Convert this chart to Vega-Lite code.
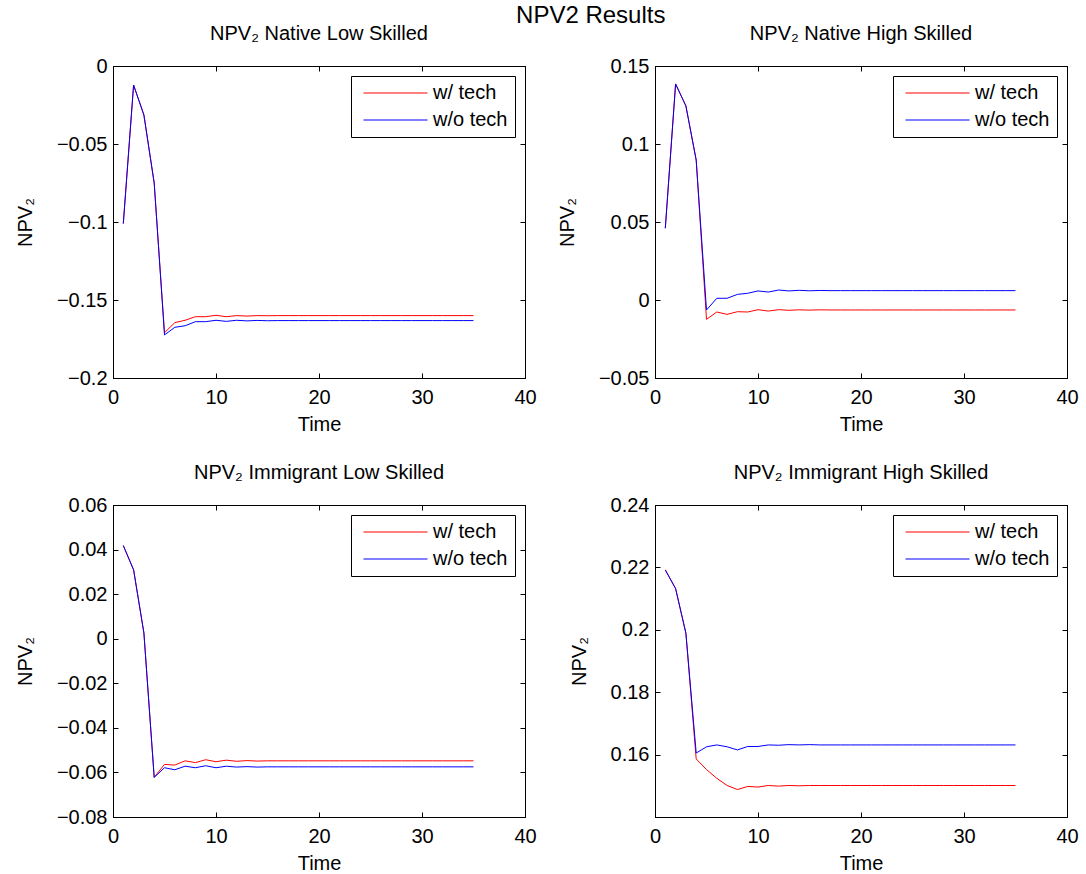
{
  "$schema": "https://vega.github.io/schema/vega-lite/v6.json",
  "background": "white",
  "padding": {"left": 14, "top": 3, "right": 10, "bottom": 5},
  "title": {"text": "NPV2 Results", "fontSize": 24, "font": "Liberation Sans", "fontWeight": "normal", "color": "black", "anchor": "middle", "offset": -4, "dx": 44},
  "config": {
    "font": "Liberation Sans",
    "view": {"stroke": "black", "strokeWidth": 1},
    "title": {"fontSize": 20, "fontWeight": "normal", "color": "black", "font": "Liberation Sans", "offset": 12},
    "axis": {"grid": false, "domainColor": "black", "tickColor": "black", "labelColor": "black", "titleColor": "black", "labelFontSize": 20, "titleFontSize": 20, "titleFontWeight": "normal", "labelFont": "Liberation Sans", "titleFont": "Liberation Sans", "tickSize": -5, "labelFlush": false, "labelOverlap": false},
    "axisX": {"labelPadding": 14, "titlePadding": 7},
    "axisY": {"labelPadding": 11, "titlePadding": 21},
    "legend": {"orient": "top-right", "offset": 10, "padding": 7, "symbolOffset": 5, "clipHeight": 20, "rowPadding": 7, "strokeColor": "black", "fillColor": "white", "symbolType": "stroke", "symbolSize": 4096, "symbolStrokeWidth": 1, "labelFontSize": 20, "labelFont": "Liberation Sans", "labelColor": "black", "labelOffset": 5, "title": null}
  },
  "data": {"values": [
    {"p":"A","t":1,"w/ tech":-0.101,"w/o tech":-0.101},
    {"p":"A","t":2,"w/ tech":-0.0122,"w/o tech":-0.0122},
    {"p":"A","t":3,"w/ tech":-0.0314,"w/o tech":-0.0314},
    {"p":"A","t":4,"w/ tech":-0.075,"w/o tech":-0.075},
    {"p":"A","t":5,"w/ tech":-0.171,"w/o tech":-0.1724},
    {"p":"A","t":6,"w/ tech":-0.1645,"w/o tech":-0.1675},
    {"p":"A","t":7,"w/ tech":-0.163,"w/o tech":-0.1665},
    {"p":"A","t":8,"w/ tech":-0.1607,"w/o tech":-0.1639},
    {"p":"A","t":9,"w/ tech":-0.1607,"w/o tech":-0.1639},
    {"p":"A","t":10,"w/ tech":-0.1598,"w/o tech":-0.163},
    {"p":"A","t":11,"w/ tech":-0.1607,"w/o tech":-0.1637},
    {"p":"A","t":12,"w/ tech":-0.16,"w/o tech":-0.163},
    {"p":"A","t":13,"w/ tech":-0.1603,"w/o tech":-0.1634},
    {"p":"A","t":14,"w/ tech":-0.16,"w/o tech":-0.1631},
    {"p":"A","t":15,"w/ tech":-0.1601,"w/o tech":-0.1633},
    {"p":"A","t":16,"w/ tech":-0.16,"w/o tech":-0.1632},
    {"p":"A","t":17,"w/ tech":-0.16,"w/o tech":-0.1632},
    {"p":"A","t":18,"w/ tech":-0.16,"w/o tech":-0.1632},
    {"p":"A","t":19,"w/ tech":-0.16,"w/o tech":-0.1632},
    {"p":"A","t":20,"w/ tech":-0.16,"w/o tech":-0.1632},
    {"p":"A","t":21,"w/ tech":-0.16,"w/o tech":-0.1632},
    {"p":"A","t":22,"w/ tech":-0.16,"w/o tech":-0.1632},
    {"p":"A","t":23,"w/ tech":-0.16,"w/o tech":-0.1632},
    {"p":"A","t":24,"w/ tech":-0.16,"w/o tech":-0.1632},
    {"p":"A","t":25,"w/ tech":-0.16,"w/o tech":-0.1632},
    {"p":"A","t":26,"w/ tech":-0.16,"w/o tech":-0.1632},
    {"p":"A","t":27,"w/ tech":-0.16,"w/o tech":-0.1632},
    {"p":"A","t":28,"w/ tech":-0.16,"w/o tech":-0.1632},
    {"p":"A","t":29,"w/ tech":-0.16,"w/o tech":-0.1632},
    {"p":"A","t":30,"w/ tech":-0.16,"w/o tech":-0.1632},
    {"p":"A","t":31,"w/ tech":-0.16,"w/o tech":-0.1632},
    {"p":"A","t":32,"w/ tech":-0.16,"w/o tech":-0.1632},
    {"p":"A","t":33,"w/ tech":-0.16,"w/o tech":-0.1632},
    {"p":"A","t":34,"w/ tech":-0.16,"w/o tech":-0.1632},
    {"p":"A","t":35,"w/ tech":-0.16,"w/o tech":-0.1632},
    {"p":"B","t":1,"w/ tech":0.046,"w/o tech":0.046},
    {"p":"B","t":2,"w/ tech":0.1385,"w/o tech":0.1385},
    {"p":"B","t":3,"w/ tech":0.1244,"w/o tech":0.1244},
    {"p":"B","t":4,"w/ tech":0.0897,"w/o tech":0.0897},
    {"p":"B","t":5,"w/ tech":-0.0124,"w/o tech":-0.0064},
    {"p":"B","t":6,"w/ tech":-0.0077,"w/o tech":0.0011},
    {"p":"B","t":7,"w/ tech":-0.0092,"w/o tech":0.0011},
    {"p":"B","t":8,"w/ tech":-0.0075,"w/o tech":0.0036},
    {"p":"B","t":9,"w/ tech":-0.0077,"w/o tech":0.0043},
    {"p":"B","t":10,"w/ tech":-0.0062,"w/o tech":0.0058},
    {"p":"B","t":11,"w/ tech":-0.0071,"w/o tech":0.0051},
    {"p":"B","t":12,"w/ tech":-0.0062,"w/o tech":0.0064},
    {"p":"B","t":13,"w/ tech":-0.0066,"w/o tech":0.0058},
    {"p":"B","t":14,"w/ tech":-0.0063,"w/o tech":0.0062},
    {"p":"B","t":15,"w/ tech":-0.0065,"w/o tech":0.0059},
    {"p":"B","t":16,"w/ tech":-0.0063,"w/o tech":0.0061},
    {"p":"B","t":17,"w/ tech":-0.0064,"w/o tech":0.006},
    {"p":"B","t":18,"w/ tech":-0.0064,"w/o tech":0.006},
    {"p":"B","t":19,"w/ tech":-0.0064,"w/o tech":0.006},
    {"p":"B","t":20,"w/ tech":-0.0064,"w/o tech":0.006},
    {"p":"B","t":21,"w/ tech":-0.0064,"w/o tech":0.006},
    {"p":"B","t":22,"w/ tech":-0.0064,"w/o tech":0.006},
    {"p":"B","t":23,"w/ tech":-0.0064,"w/o tech":0.006},
    {"p":"B","t":24,"w/ tech":-0.0064,"w/o tech":0.006},
    {"p":"B","t":25,"w/ tech":-0.0064,"w/o tech":0.006},
    {"p":"B","t":26,"w/ tech":-0.0064,"w/o tech":0.006},
    {"p":"B","t":27,"w/ tech":-0.0064,"w/o tech":0.006},
    {"p":"B","t":28,"w/ tech":-0.0064,"w/o tech":0.006},
    {"p":"B","t":29,"w/ tech":-0.0064,"w/o tech":0.006},
    {"p":"B","t":30,"w/ tech":-0.0064,"w/o tech":0.006},
    {"p":"B","t":31,"w/ tech":-0.0064,"w/o tech":0.006},
    {"p":"B","t":32,"w/ tech":-0.0064,"w/o tech":0.006},
    {"p":"B","t":33,"w/ tech":-0.0064,"w/o tech":0.006},
    {"p":"B","t":34,"w/ tech":-0.0064,"w/o tech":0.006},
    {"p":"B","t":35,"w/ tech":-0.0064,"w/o tech":0.006},
    {"p":"C","t":1,"w/ tech":0.0418,"w/o tech":0.0418},
    {"p":"C","t":2,"w/ tech":0.0309,"w/o tech":0.0309},
    {"p":"C","t":3,"w/ tech":0.0026,"w/o tech":0.0026},
    {"p":"C","t":4,"w/ tech":-0.0622,"w/o tech":-0.0622},
    {"p":"C","t":5,"w/ tech":-0.0564,"w/o tech":-0.0579},
    {"p":"C","t":6,"w/ tech":-0.0567,"w/o tech":-0.0588},
    {"p":"C","t":7,"w/ tech":-0.0548,"w/o tech":-0.0572},
    {"p":"C","t":8,"w/ tech":-0.0556,"w/o tech":-0.0579},
    {"p":"C","t":9,"w/ tech":-0.0543,"w/o tech":-0.057},
    {"p":"C","t":10,"w/ tech":-0.0552,"w/o tech":-0.0579},
    {"p":"C","t":11,"w/ tech":-0.0545,"w/o tech":-0.0572},
    {"p":"C","t":12,"w/ tech":-0.055,"w/o tech":-0.0576},
    {"p":"C","t":13,"w/ tech":-0.0547,"w/o tech":-0.0574},
    {"p":"C","t":14,"w/ tech":-0.0549,"w/o tech":-0.0576},
    {"p":"C","t":15,"w/ tech":-0.0548,"w/o tech":-0.0575},
    {"p":"C","t":16,"w/ tech":-0.0548,"w/o tech":-0.0575},
    {"p":"C","t":17,"w/ tech":-0.0548,"w/o tech":-0.0575},
    {"p":"C","t":18,"w/ tech":-0.0548,"w/o tech":-0.0575},
    {"p":"C","t":19,"w/ tech":-0.0548,"w/o tech":-0.0575},
    {"p":"C","t":20,"w/ tech":-0.0548,"w/o tech":-0.0575},
    {"p":"C","t":21,"w/ tech":-0.0548,"w/o tech":-0.0575},
    {"p":"C","t":22,"w/ tech":-0.0548,"w/o tech":-0.0575},
    {"p":"C","t":23,"w/ tech":-0.0548,"w/o tech":-0.0575},
    {"p":"C","t":24,"w/ tech":-0.0548,"w/o tech":-0.0575},
    {"p":"C","t":25,"w/ tech":-0.0548,"w/o tech":-0.0575},
    {"p":"C","t":26,"w/ tech":-0.0548,"w/o tech":-0.0575},
    {"p":"C","t":27,"w/ tech":-0.0548,"w/o tech":-0.0575},
    {"p":"C","t":28,"w/ tech":-0.0548,"w/o tech":-0.0575},
    {"p":"C","t":29,"w/ tech":-0.0548,"w/o tech":-0.0575},
    {"p":"C","t":30,"w/ tech":-0.0548,"w/o tech":-0.0575},
    {"p":"C","t":31,"w/ tech":-0.0548,"w/o tech":-0.0575},
    {"p":"C","t":32,"w/ tech":-0.0548,"w/o tech":-0.0575},
    {"p":"C","t":33,"w/ tech":-0.0548,"w/o tech":-0.0575},
    {"p":"C","t":34,"w/ tech":-0.0548,"w/o tech":-0.0575},
    {"p":"C","t":35,"w/ tech":-0.0548,"w/o tech":-0.0575},
    {"p":"D","t":1,"w/ tech":0.2192,"w/o tech":0.2192},
    {"p":"D","t":2,"w/ tech":0.2132,"w/o tech":0.2132},
    {"p":"D","t":3,"w/ tech":0.1989,"w/o tech":0.1989},
    {"p":"D","t":4,"w/ tech":0.1586,"w/o tech":0.1605},
    {"p":"D","t":5,"w/ tech":0.1552,"w/o tech":0.1625},
    {"p":"D","t":6,"w/ tech":0.1524,"w/o tech":0.1631},
    {"p":"D","t":7,"w/ tech":0.1501,"w/o tech":0.1625},
    {"p":"D","t":8,"w/ tech":0.1488,"w/o tech":0.1615},
    {"p":"D","t":9,"w/ tech":0.1498,"w/o tech":0.1626},
    {"p":"D","t":10,"w/ tech":0.1496,"w/o tech":0.1626},
    {"p":"D","t":11,"w/ tech":0.1501,"w/o tech":0.1631},
    {"p":"D","t":12,"w/ tech":0.1499,"w/o tech":0.163},
    {"p":"D","t":13,"w/ tech":0.1501,"w/o tech":0.1632},
    {"p":"D","t":14,"w/ tech":0.15,"w/o tech":0.1631},
    {"p":"D","t":15,"w/ tech":0.1501,"w/o tech":0.1632},
    {"p":"D","t":16,"w/ tech":0.1501,"w/o tech":0.1631},
    {"p":"D","t":17,"w/ tech":0.1501,"w/o tech":0.1631},
    {"p":"D","t":18,"w/ tech":0.1501,"w/o tech":0.1631},
    {"p":"D","t":19,"w/ tech":0.1501,"w/o tech":0.1631},
    {"p":"D","t":20,"w/ tech":0.1501,"w/o tech":0.1631},
    {"p":"D","t":21,"w/ tech":0.1501,"w/o tech":0.1631},
    {"p":"D","t":22,"w/ tech":0.1501,"w/o tech":0.1631},
    {"p":"D","t":23,"w/ tech":0.1501,"w/o tech":0.1631},
    {"p":"D","t":24,"w/ tech":0.1501,"w/o tech":0.1631},
    {"p":"D","t":25,"w/ tech":0.1501,"w/o tech":0.1631},
    {"p":"D","t":26,"w/ tech":0.1501,"w/o tech":0.1631},
    {"p":"D","t":27,"w/ tech":0.1501,"w/o tech":0.1631},
    {"p":"D","t":28,"w/ tech":0.1501,"w/o tech":0.1631},
    {"p":"D","t":29,"w/ tech":0.1501,"w/o tech":0.1631},
    {"p":"D","t":30,"w/ tech":0.1501,"w/o tech":0.1631},
    {"p":"D","t":31,"w/ tech":0.1501,"w/o tech":0.1631},
    {"p":"D","t":32,"w/ tech":0.1501,"w/o tech":0.1631},
    {"p":"D","t":33,"w/ tech":0.1501,"w/o tech":0.1631},
    {"p":"D","t":34,"w/ tech":0.1501,"w/o tech":0.1631},
    {"p":"D","t":35,"w/ tech":0.1501,"w/o tech":0.1631}
  ]},
  "columns": 2,
  "spacing": {"row": 127, "column": 130},
  "bounds": "flush",
  "resolve": {"scale": {"color": "independent"}, "legend": {"color": "independent"}},
  "concat": [
    {
      "title": "NPV₂ Native Low Skilled",
      "width": 412, "height": 312,
      "transform": [{"filter": "datum.p == 'A'"}, {"fold": ["w/ tech", "w/o tech"], "as": ["s", "v"]}],
      "layer": [
        {"mark": {"type": "line", "strokeWidth": 1},
         "encoding": {
           "x": {"field": "t", "type": "quantitative", "scale": {"domain": [0, 40], "nice": false}, "axis": {"values": [0, 10, 20, 30, 40], "title": "Time"}},
           "y": {"field": "v", "type": "quantitative", "scale": {"domain": [-0.2, 0], "zero": false, "nice": false}, "axis": {"values": [-0.2, -0.15, -0.1, -0.05, 0], "format": "~f", "title": "NPV₂"}},
           "color": {"field": "s", "type": "nominal", "scale": {"domain": ["w/ tech", "w/o tech"], "range": ["#ff0000", "#0000ff"]}}
         }},
        {"mark": {"type": "line", "opacity": 0},
         "encoding": {
           "x": {"field": "t", "type": "quantitative", "axis": {"orient": "top", "values": [0, 10, 20, 30, 40], "labels": false, "title": null}},
           "y": {"field": "v", "type": "quantitative", "axis": {"orient": "right", "values": [-0.2, -0.15, -0.1, -0.05, 0], "labels": false, "title": null}},
           "detail": {"field": "s"}
         }}
      ],
      "resolve": {"axis": {"x": "independent", "y": "independent"}}
    },
    {
      "title": "NPV₂ Native High Skilled",
      "width": 412, "height": 312,
      "transform": [{"filter": "datum.p == 'B'"}, {"fold": ["w/ tech", "w/o tech"], "as": ["s", "v"]}],
      "layer": [
        {"mark": {"type": "line", "strokeWidth": 1},
         "encoding": {
           "x": {"field": "t", "type": "quantitative", "scale": {"domain": [0, 40], "nice": false}, "axis": {"values": [0, 10, 20, 30, 40], "title": "Time"}},
           "y": {"field": "v", "type": "quantitative", "scale": {"domain": [-0.05, 0.15], "zero": false, "nice": false}, "axis": {"values": [-0.05, 0, 0.05, 0.1, 0.15], "format": "~f", "title": "NPV₂"}},
           "color": {"field": "s", "type": "nominal", "scale": {"domain": ["w/ tech", "w/o tech"], "range": ["#ff0000", "#0000ff"]}}
         }},
        {"mark": {"type": "line", "opacity": 0},
         "encoding": {
           "x": {"field": "t", "type": "quantitative", "axis": {"orient": "top", "values": [0, 10, 20, 30, 40], "labels": false, "title": null}},
           "y": {"field": "v", "type": "quantitative", "axis": {"orient": "right", "values": [-0.05, 0, 0.05, 0.1, 0.15], "labels": false, "title": null}},
           "detail": {"field": "s"}
         }}
      ],
      "resolve": {"axis": {"x": "independent", "y": "independent"}}
    },
    {
      "title": "NPV₂ Immigrant Low Skilled",
      "width": 412, "height": 312,
      "transform": [{"filter": "datum.p == 'C'"}, {"fold": ["w/ tech", "w/o tech"], "as": ["s", "v"]}],
      "layer": [
        {"mark": {"type": "line", "strokeWidth": 1},
         "encoding": {
           "x": {"field": "t", "type": "quantitative", "scale": {"domain": [0, 40], "nice": false}, "axis": {"values": [0, 10, 20, 30, 40], "title": "Time"}},
           "y": {"field": "v", "type": "quantitative", "scale": {"domain": [-0.08, 0.06], "zero": false, "nice": false}, "axis": {"values": [-0.08, -0.06, -0.04, -0.02, 0, 0.02, 0.04, 0.06], "format": "~f", "title": "NPV₂"}},
           "color": {"field": "s", "type": "nominal", "scale": {"domain": ["w/ tech", "w/o tech"], "range": ["#ff0000", "#0000ff"]}}
         }},
        {"mark": {"type": "line", "opacity": 0},
         "encoding": {
           "x": {"field": "t", "type": "quantitative", "axis": {"orient": "top", "values": [0, 10, 20, 30, 40], "labels": false, "title": null}},
           "y": {"field": "v", "type": "quantitative", "axis": {"orient": "right", "values": [-0.08, -0.06, -0.04, -0.02, 0, 0.02, 0.04, 0.06], "labels": false, "title": null}},
           "detail": {"field": "s"}
         }}
      ],
      "resolve": {"axis": {"x": "independent", "y": "independent"}}
    },
    {
      "title": "NPV₂ Immigrant High Skilled",
      "width": 412, "height": 312,
      "transform": [{"filter": "datum.p == 'D'"}, {"fold": ["w/ tech", "w/o tech"], "as": ["s", "v"]}],
      "layer": [
        {"mark": {"type": "line", "strokeWidth": 1},
         "encoding": {
           "x": {"field": "t", "type": "quantitative", "scale": {"domain": [0, 40], "nice": false}, "axis": {"values": [0, 10, 20, 30, 40], "title": "Time"}},
           "y": {"field": "v", "type": "quantitative", "scale": {"domain": [0.14, 0.24], "zero": false, "nice": false}, "axis": {"values": [0.16, 0.18, 0.2, 0.22, 0.24], "format": "~f", "title": "NPV₂"}},
           "color": {"field": "s", "type": "nominal", "scale": {"domain": ["w/ tech", "w/o tech"], "range": ["#ff0000", "#0000ff"]}}
         }},
        {"mark": {"type": "line", "opacity": 0},
         "encoding": {
           "x": {"field": "t", "type": "quantitative", "axis": {"orient": "top", "values": [0, 10, 20, 30, 40], "labels": false, "title": null}},
           "y": {"field": "v", "type": "quantitative", "axis": {"orient": "right", "values": [0.16, 0.18, 0.2, 0.22, 0.24], "labels": false, "title": null}},
           "detail": {"field": "s"}
         }}
      ],
      "resolve": {"axis": {"x": "independent", "y": "independent"}}
    }
  ]
}
